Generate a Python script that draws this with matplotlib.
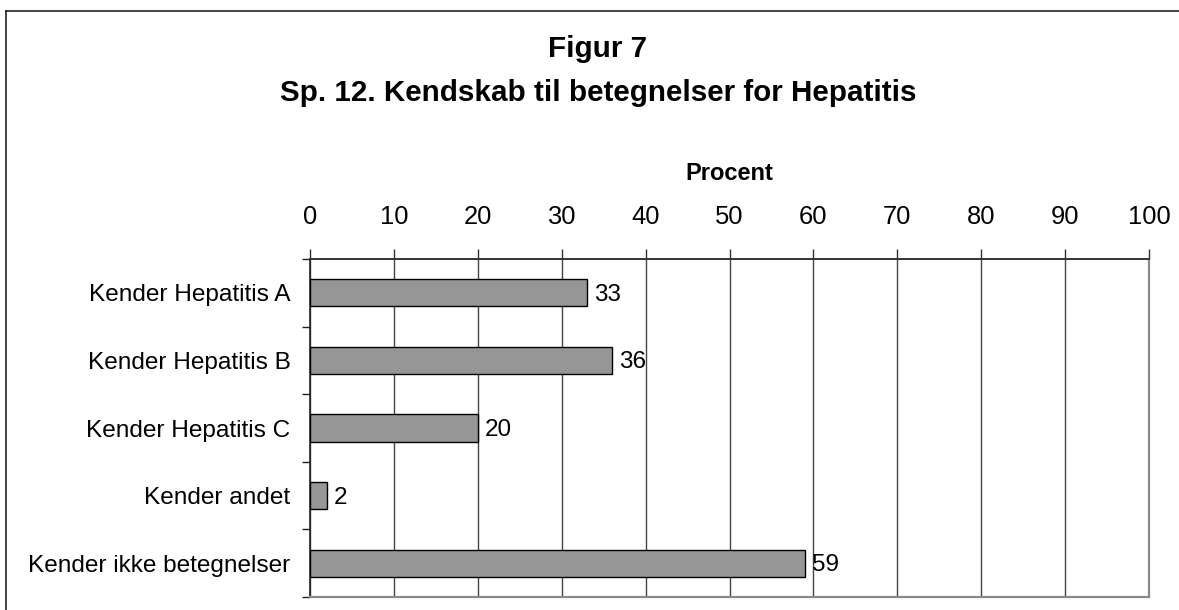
import matplotlib.pyplot as plt
from matplotlib.lines import Line2D

plt.rcParams['font.family'] = ['Liberation Sans', 'DejaVu Sans']

# data
categories = ['Kender Hepatitis A', 'Kender Hepatitis B', 'Kender Hepatitis C',
              'Kender andet', 'Kender ikke betegnelser']
values = [33, 36, 20, 2, 59]
xticks = [0, 10, 20, 30, 40, 50, 60, 70, 80, 90, 100]

W, H = 1179, 610
fig = plt.figure(figsize=(W / 100, H / 100), dpi=100)
ax = fig.add_axes([310 / W, 1 - 597 / H, (1149 - 310) / W, (597 - 259) / H])

ypos = list(range(len(categories)))
ax.barh(ypos, values, height=0.4, color='#969696', edgecolor='black', linewidth=1.0, zorder=3)
ax.set_ylim(len(categories) - 0.5, -0.5)
ax.set_xlim(0, 100)

for y, v in zip(ypos, values):
    ax.annotate(str(v), (v, y), xytext=(5, -1.5), textcoords='offset points',
                va='center', ha='left', fontsize=17.5)

# x axis on top
ax.xaxis.tick_top()
ax.xaxis.set_label_position('top')
ax.set_xticks(xticks)
ax.set_xticklabels([str(t) for t in xticks], fontsize=18.4)
ax.tick_params(axis='x', direction='out', length=7.5, width=1, color='#333333', pad=14)
ax.set_xlabel('Procent', fontsize=17, fontweight='bold', labelpad=18)

# y ticks at category boundaries, labels at centers
ax.set_yticks([i - 0.5 for i in range(len(categories) + 1)])
ax.set_yticklabels([])
ax.set_yticks(ypos, minor=True)
ax.set_yticklabels(categories, minor=True, fontsize=17.6)
ax.tick_params(axis='y', which='major', direction='out', length=6, width=1, color='#222222')
ax.tick_params(axis='y', which='minor', length=0, pad=14)

ax.grid(axis='x', color='#444444', linewidth=1.0, zorder=0)
ax.set_axisbelow(True)

ax.spines['top'].set_color('#333333')
ax.spines['top'].set_linewidth(1.4)
ax.spines['left'].set_color('#222222')
ax.spines['left'].set_linewidth(1.2)
for s in ['right', 'bottom']:
    ax.spines[s].set_color('#8a8a8a')
    ax.spines[s].set_linewidth(1.6)

# titles
fig.text(598 / W, 1 - 49 / H, 'Figur 7', ha='center', va='center',
         fontsize=21.3, fontweight='bold')
fig.text(598 / W, 1 - 93 / H, 'Sp. 12. Kendskab til betegnelser for Hepatitis',
         ha='center', va='center', fontsize=21.3, fontweight='bold')

# outer chart frame (runs off the right and bottom edges)
fig.add_artist(Line2D([5.5 / W, 5.5 / W], [1 - 10.5 / H, -0.1], color='#222222', lw=1.2))
fig.add_artist(Line2D([5.5 / W, 1.1], [1 - 10.5 / H, 1 - 10.5 / H], color='#222222', lw=1.2))

fig.savefig('out.png', dpi=100)
